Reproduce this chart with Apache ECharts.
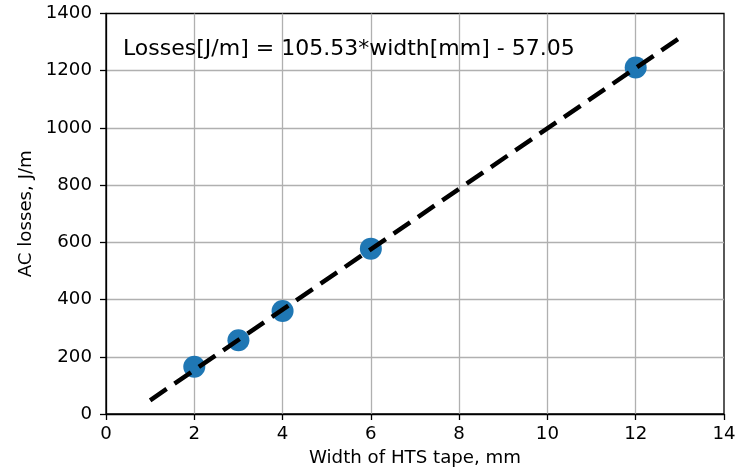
<!DOCTYPE html>
<html>
<head>
<meta charset="utf-8">
<script src="https://cdn.jsdelivr.net/npm/echarts@6/dist/echarts.min.js"></script>
<style>html,body{margin:0;padding:0;background:#fff;}#c{width:746px;height:472px;}</style>
</head>
<body>
<div id="c"></div>
<script>
var widths = [2, 3, 4, 6, 12];
var losses = [165, 258, 360, 578, 1211];
var fitX = [1, 13];
var fitY = [48, 1315];
var xTicks = [0, 2, 4, 6, 8, 10, 12, 14];
var yTicks = [0, 200, 400, 600, 800, 1000, 1200, 1400];
var equationText = 'Losses[J/m] = 105.53*width[mm] - 57.05';
var xTitle = 'Width of HTS tape, mm';
var yTitle = 'AC losses, J/m';

var font = 'DejaVu Sans';
var chart = echarts.init(document.getElementById('c'), null, {renderer: 'canvas'});
var scatterData = widths.map(function (w, i) { return [w, losses[i]]; });
var fitData = fitX.map(function (x, i) { return [x, fitY[i]]; });

chart.setOption({
  animation: false,
  backgroundColor: '#fff',
  grid: {left: 106, right: 22, top: 13.5, bottom: 57, show: true, borderColor: '#000', borderWidth: 1.3, backgroundColor: 'transparent'},
  xAxis: {
    type: 'value', min: xTicks[0], max: xTicks[xTicks.length - 1], interval: 2,
    name: xTitle, nameLocation: 'middle', nameGap: 35,
    nameTextStyle: {fontFamily: font, fontSize: 18.2, color: '#000'},
    axisLine: {show: true, onZero: false, lineStyle: {color: '#000', width: 1.3}},
    axisTick: {show: true, length: 6, lineStyle: {color: '#000', width: 1.3}},
    axisLabel: {margin: 11, fontFamily: font, fontSize: 18.2, color: '#000', formatter: function (v) { return String(v); }},
    splitLine: {show: true, showMinLine: false, showMaxLine: false, lineStyle: {color: '#b0b0b0', width: 1.3}}
  },
  yAxis: {
    type: 'value', min: yTicks[0], max: yTicks[yTicks.length - 1], interval: 200,
    name: yTitle, nameLocation: 'middle', nameGap: 66,
    nameTextStyle: {fontFamily: font, fontSize: 18.2, color: '#000'},
    axisLine: {show: true, onZero: false, lineStyle: {color: '#000', width: 1.3}},
    axisTick: {show: true, length: 6, lineStyle: {color: '#000', width: 1.3}},
    axisLabel: {margin: 14, fontFamily: font, fontSize: 18.2, color: '#000', formatter: function (v) { return String(v); }},
    splitLine: {show: true, showMinLine: false, showMaxLine: false, lineStyle: {color: '#b0b0b0', width: 1.3}}
  },
  graphic: [{
    type: 'text', left: 123, top: 38, z: 100,
    style: {text: equationText, fontFamily: font, fontSize: 22, fill: '#000'}
  }],
  series: [
    {
      type: 'scatter', data: scatterData, symbol: 'circle', symbolSize: 22,
      itemStyle: {color: '#1f77b4', opacity: 1}, z: 2
    },
    {
      type: 'line', data: fitData, showSymbol: false, symbol: 'none',
      lineStyle: {color: '#000', width: 4.5, type: [20, 9.5]}, z: 3
    }
  ]
});
</script>
</body>
</html>
